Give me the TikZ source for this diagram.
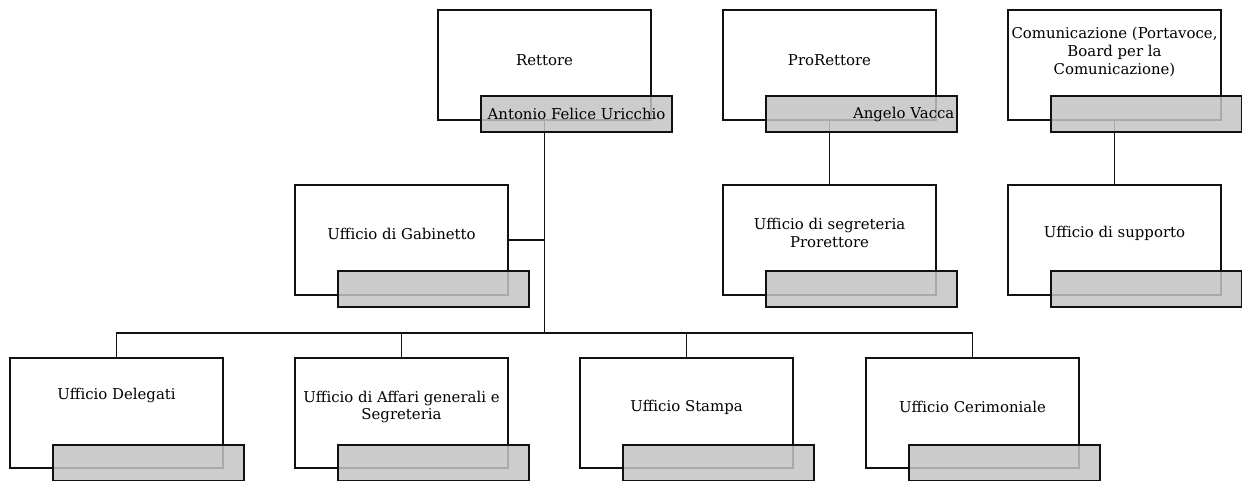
\documentclass[tikz,border=0pt]{standalone}
\usepackage{fontspec}
\setmainfont{DejaVu Serif}
\usepackage{tikz}
\definecolor{grigioNome}{HTML}{C4C4C4}
\definecolor{bordoNero}{HTML}{111111}

\begin{document}
\begin{tikzpicture}[x=0.025cm,y=-0.025cm,
  ufficio/.style={draw=bordoNero,line width=1.3pt,fill=white,minimum width=5.325cm,minimum height=2.75cm,inner sep=0pt},
  nome/.style={draw=bordoNero,line width=1.3pt,fill=grigioNome,fill opacity=0.85,text opacity=1,minimum width=4.775cm,minimum height=0.9cm,inner sep=0pt,font=\fontsize{10.6}{12}\selectfont},
  testo/.style={font=\fontsize{10.6}{12.6}\selectfont,align=center,inner sep=0pt},
  linea/.style={draw=bordoNero,line width=1.2pt}]
\useasboundingbox (0,0) rectangle (1242,480);
% 1) Vertici
\node[ufficio] (rettore) at (544.5,65) {};
\node[testo] (rettoreT) at (544.5,60) {Rettore};
\node[ufficio] (prorettore) at (829.5,65) {};
\node[testo] (prorettoreT) at (829.5,60) {ProRettore};
\node[ufficio] (comunicazione) at (1114.5,65) {};
\node[testo] (comunicazioneT) at (1114.5,52) {Comunicazione (Portavoce,\\Board per la\\Comunicazione)};
% 2) Uffici di staff
\node[ufficio] (gabinetto) at (401.5,240) {};
\node[testo] (gabinettoT) at (401.5,234) {Ufficio di Gabinetto};
\node[ufficio] (segreteria) at (829.5,240) {};
\node[testo] (segreteriaT) at (829.5,233) {Ufficio di segreteria\\Prorettore};
\node[ufficio] (supporto) at (1114.5,240) {};
\node[testo] (supportoT) at (1114.5,233) {Ufficio di supporto};
% 3) Uffici sotto il Rettore
\node[ufficio] (delegati) at (116.5,413) {};
\node[testo] (delegatiT) at (116.5,395) {Ufficio Delegati};
\node[ufficio] (affari) at (401.5,413) {};
\node[testo] (affariT) at (401.5,407) {Ufficio di Affari generali e\\Segreteria};
\node[ufficio] (stampa) at (686.5,413) {};
\node[testo] (stampaT) at (686.5,407) {Ufficio Stampa};
\node[ufficio] (cerimoniale) at (972.5,413) {};
\node[testo] (cerimonialeT) at (972.5,407) {Ufficio Cerimoniale};
% connettori
\coordinate (bus) at (544.5,333);
\draw[linea] (rettore.south) -- (bus);
\draw[linea] (gabinetto.east) -- (gabinetto.east -| bus);
\draw[linea] (delegati.north) |- (bus) -| (cerimoniale.north);
\draw[linea] (affari.north) -- (affari.north |- bus);
\draw[linea] (stampa.north) -- (stampa.north |- bus);
\draw[linea] (prorettore.south) -- (segreteria.north);
\draw[linea] (comunicazione.south) -- (supporto.north);
% 4) Nomi (riquadri grigi)
\node[nome] (rettoreN) at (576.5,114) {Antonio Felice Uricchio};
\node[nome,text width=4.64cm,align=right] (prorettoreN) at (861.5,114) {Angelo Vacca};
\node[nome] (comunicazioneN) at (1146.5,114) {};
\node[nome] (gabinettoN) at (433.5,289) {};
\node[nome] (segreteriaN) at (861.5,289) {};
\node[nome] (supportoN) at (1146.5,289) {};
\node[nome] (delegatiN) at (148.5,463) {};
\node[nome] (affariN) at (433.5,463) {};
\node[nome] (stampaN) at (718.5,463) {};
\node[nome] (cerimonialeN) at (1004.5,463) {};
\end{tikzpicture}
\end{document}
